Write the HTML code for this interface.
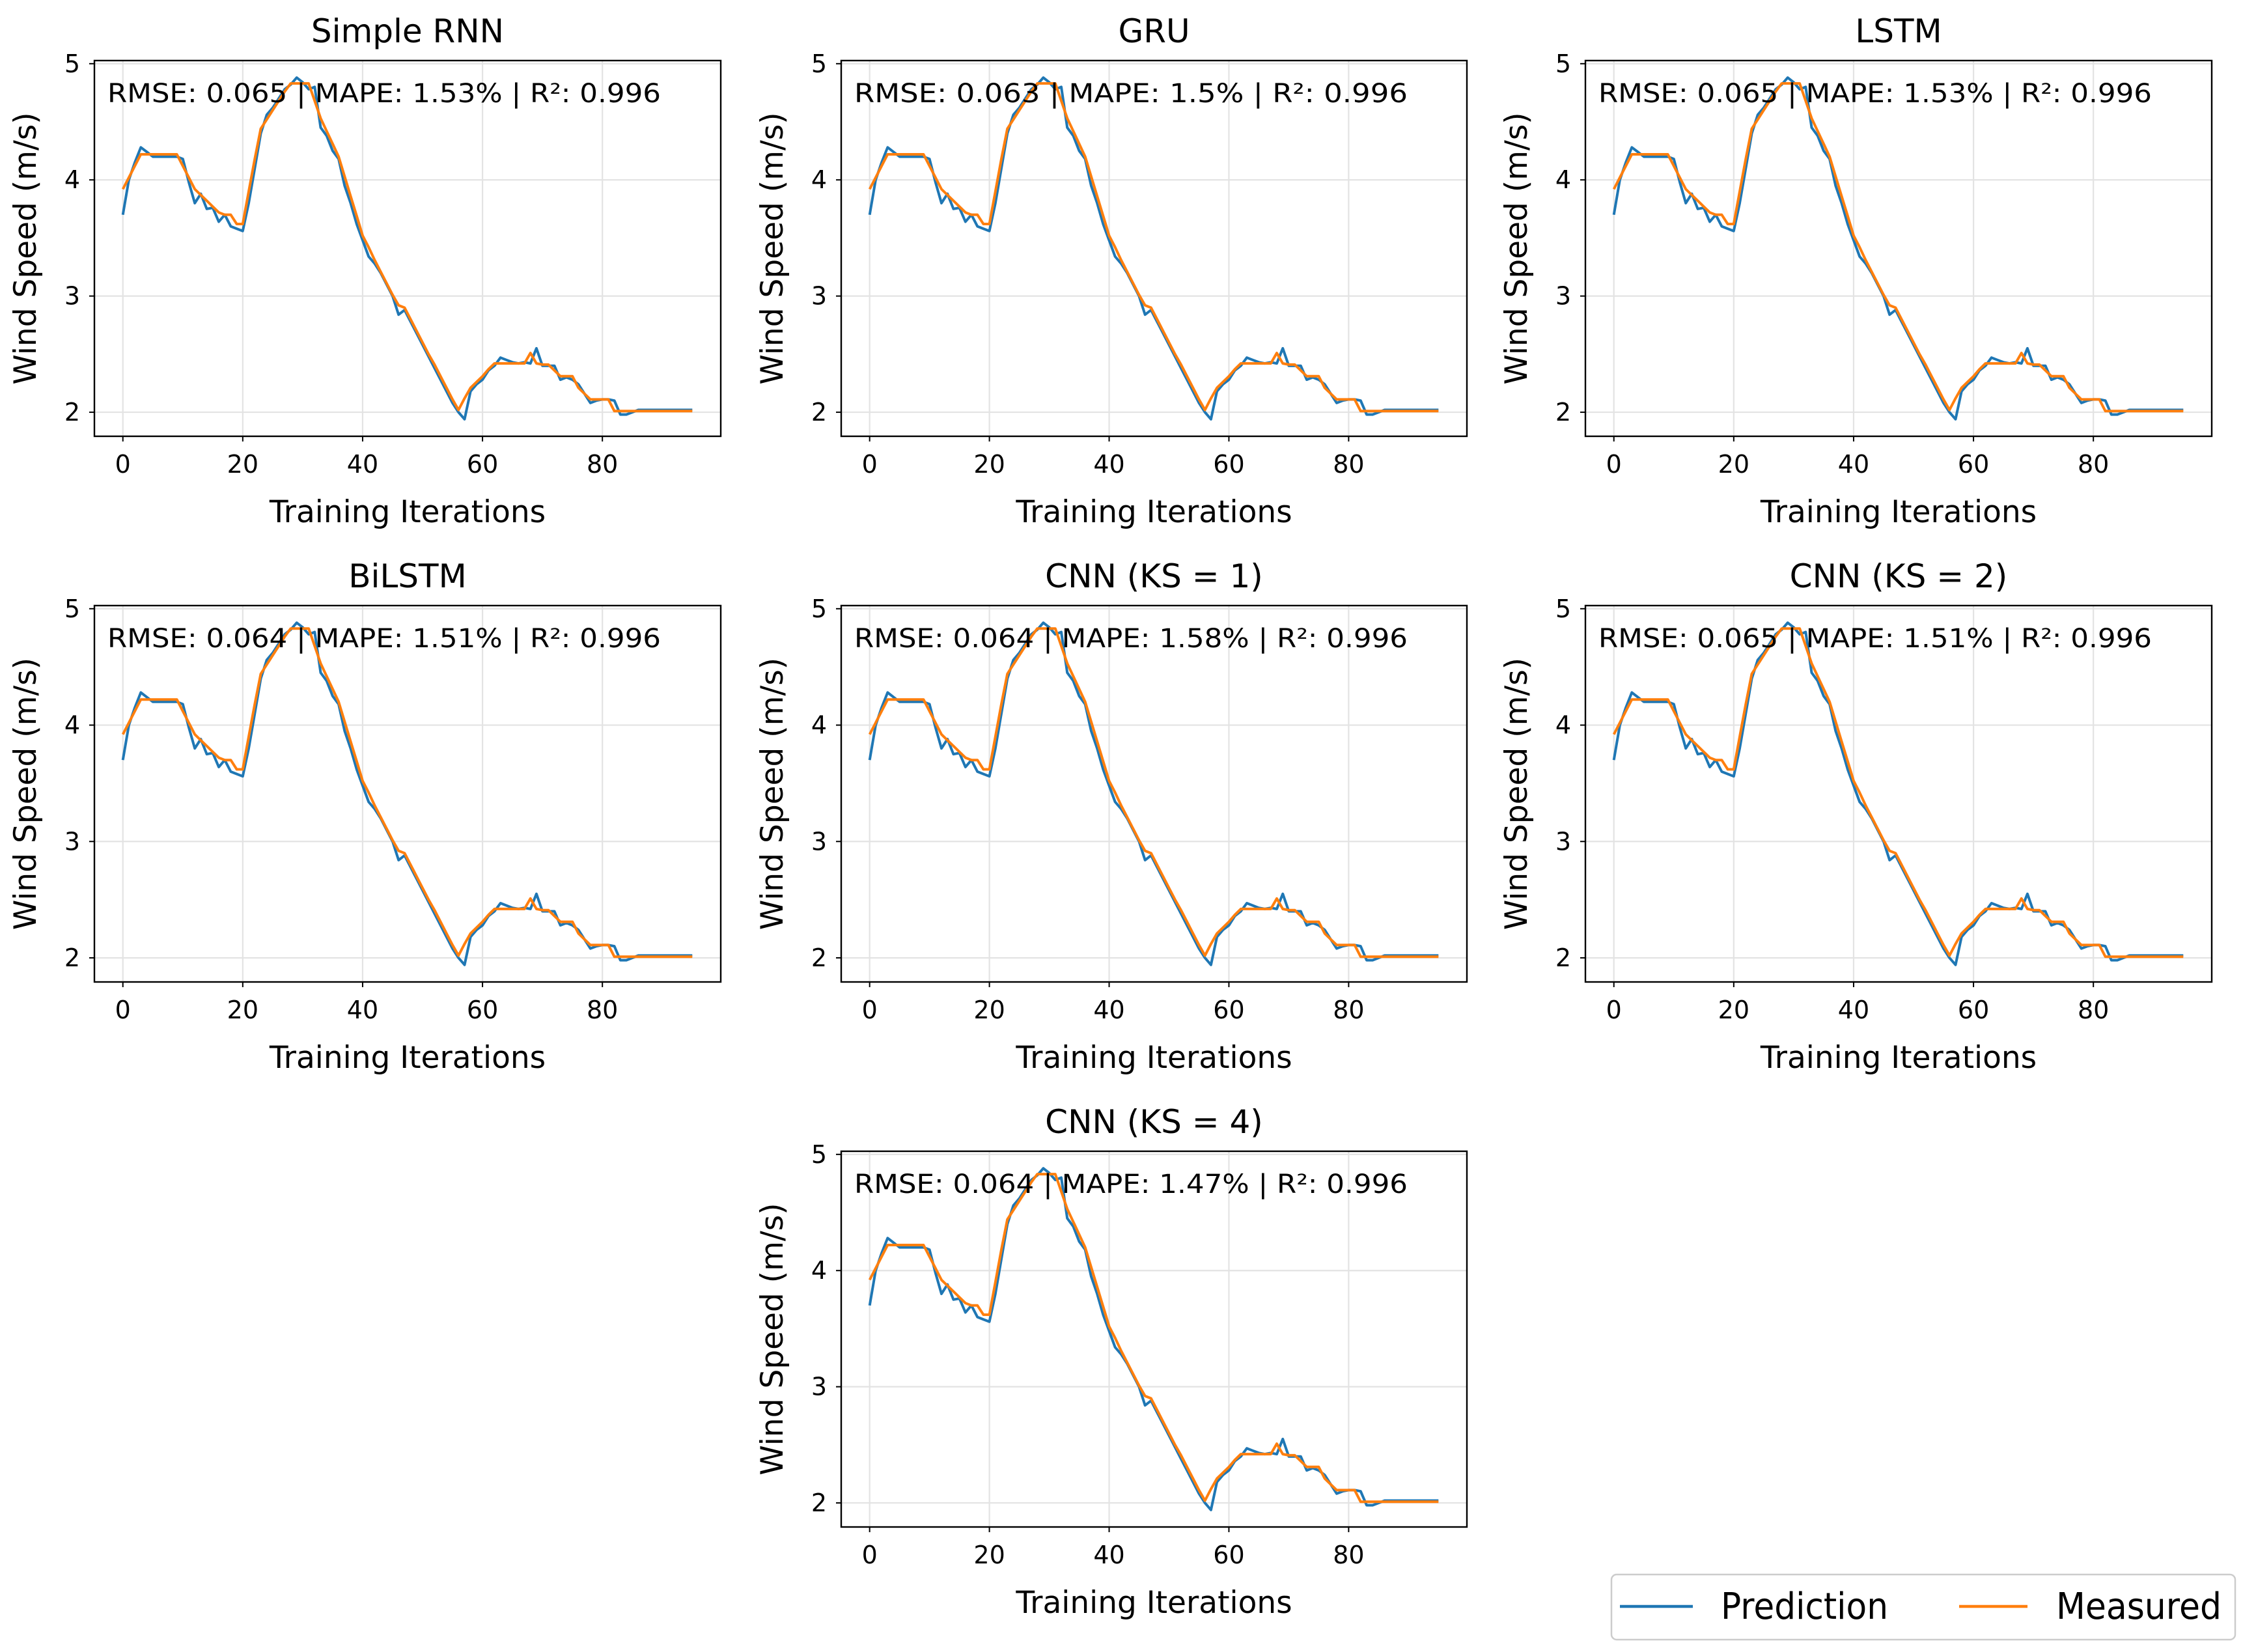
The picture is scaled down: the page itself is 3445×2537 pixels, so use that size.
<!DOCTYPE html>
<html><head><meta charset="utf-8">
<style>
html,body{margin:0;padding:0;background:#fff;}
svg{display:block;}
text{font-family:"DejaVu Sans","Liberation Sans",sans-serif;fill:#000;}
</style></head>
<body>
<svg id="fig" width="3445" height="2537" viewBox="0 0 3445 2537" xmlns="http://www.w3.org/2000/svg"></svg>
<script>
const titles = ["Simple RNN","GRU","LSTM","BiLSTM","CNN (KS = 1)","CNN (KS = 2)","CNN (KS = 4)"];
const rmse = ["0.065","0.063","0.065","0.064","0.064","0.065","0.064"];
const mape = ["1.53%","1.5%","1.53%","1.51%","1.58%","1.51%","1.47%"];
const r2 = ["0.996","0.996","0.996","0.996","0.996","0.996","0.996"];
const measured = [3.92,4.02,4.12,4.22,4.22,4.22,4.22,4.22,4.22,4.22,4.12,4.02,3.92,3.87,3.82,3.77,3.72,3.70,3.70,3.62,3.62,3.90,4.18,4.44,4.52,4.60,4.68,4.76,4.83,4.83,4.83,4.83,4.68,4.53,4.42,4.31,4.20,4.03,3.86,3.69,3.52,3.42,3.31,3.21,3.11,3.01,2.92,2.90,2.80,2.70,2.60,2.50,2.41,2.31,2.21,2.11,2.02,2.12,2.21,2.26,2.31,2.37,2.42,2.42,2.42,2.42,2.42,2.42,2.51,2.42,2.41,2.41,2.36,2.31,2.31,2.31,2.21,2.16,2.11,2.11,2.11,2.11,2.01,2.01,2.01,2.01,2.01,2.01,2.01,2.01,2.01,2.01,2.01,2.01,2.01,2.01];
const prediction = [3.70,4.00,4.15,4.28,4.24,4.20,4.20,4.20,4.20,4.20,4.18,3.98,3.80,3.88,3.75,3.76,3.64,3.70,3.60,3.58,3.56,3.80,4.10,4.40,4.56,4.62,4.70,4.78,4.82,4.88,4.84,4.78,4.80,4.45,4.38,4.25,4.18,3.95,3.80,3.62,3.48,3.34,3.28,3.20,3.10,3.00,2.84,2.88,2.78,2.68,2.58,2.48,2.38,2.28,2.18,2.08,2.00,1.94,2.18,2.24,2.28,2.36,2.40,2.47,2.45,2.43,2.42,2.43,2.42,2.55,2.40,2.40,2.40,2.28,2.30,2.28,2.24,2.16,2.08,2.10,2.11,2.11,2.10,1.98,1.98,2.00,2.02,2.02,2.02,2.02,2.02,2.02,2.02,2.02,2.02,2.02];
const xTicks = [0,20,40,60,80];
const yTicks = [2,3,4,5];

const NS="http://www.w3.org/2000/svg";
const svg=document.getElementById('fig');
function mk(tag,attrs,parent){const e=document.createElementNS(NS,tag);for(const k in attrs)e.setAttribute(k,attrs[k]);(parent||svg).appendChild(e);return e;}

const cols=[[145,1107],[1292,2253],[2435,3397]];
const rows=[[93,670],[930,1508],[1768,2345]];
const pos=[[0,0],[1,0],[2,0],[0,1],[1,1],[2,1],[1,2]];

const allV=measured.concat(prediction);
const dmin=Math.min(...allV), dmax=Math.max(...allV);
const ymin=dmin-0.05*(dmax-dmin), ymax=dmax+0.05*(dmax-dmin);
const n=measured.length;
const xmin=-0.05*(n-1), xmax=(n-1)*1.05;

pos.forEach((p,i)=>{
  const [L,R]=cols[p[0]], [T,B]=rows[p[1]];
  const sx=v=>L+(v-xmin)/(xmax-xmin)*(R-L);
  const sy=v=>B-(v-ymin)/(ymax-ymin)*(B-T);
  const g=mk('g',{});
  
  
  xTicks.forEach(t=>{const l=mk('line',{x1:sx(t),x2:sx(t),y1:T,y2:B,stroke:'#e3e3e3','stroke-width':2.2},g);
    });
  yTicks.forEach(t=>{const l=mk('line',{x1:L,x2:R,y1:sy(t),y2:sy(t),stroke:'#e3e3e3','stroke-width':2.2},g);
    });
  const mkPath=(arr,color,name)=>{
    const d=arr.map((v,k)=>(k?'L':'M')+sx(k).toFixed(1)+' '+sy(v).toFixed(1)).join(' ');
    const pth=mk('path',{d:d,fill:'none',stroke:color,'stroke-width':4,'stroke-linejoin':'round'},g);
    
    
  };
  mkPath(prediction,'#1f77b4','prediction-line');
  mkPath(measured,'#ff7f0e','measured-line');
  const fr=mk('rect',{x:L,y:T,width:R-L,height:B-T,fill:'none',stroke:'#000','stroke-width':2.4},g);
  
  xTicks.forEach(t=>{
    mk('line',{x1:sx(t),x2:sx(t),y1:B,y2:B+8,stroke:'#000','stroke-width':2},g);
    const tx=mk('text',{x:sx(t),y:B+56,'font-size':38,'text-anchor':'middle'},g);tx.textContent=t;
    
  });
  yTicks.forEach(t=>{
    mk('line',{x1:L-8,x2:L,y1:sy(t),y2:sy(t),stroke:'#000','stroke-width':2},g);
    const tx=mk('text',{x:L-22,y:sy(t)+13,'font-size':38,'text-anchor':'end'},g);tx.textContent=t;
    
  });
  const ti=mk('text',{x:(L+R)/2,y:T-28,'font-size':50,'text-anchor':'middle'},g);ti.textContent=titles[i];
  
  const xl=mk('text',{x:(L+R)/2,y:B+132,'font-size':47,'text-anchor':'middle'},g);xl.textContent='Training Iterations';
  
  const yl=mk('text',{x:0,y:0,'font-size':47,'text-anchor':'middle',transform:`translate(${L-90},${(T+B)/2}) rotate(-90)`},g);yl.textContent='Wind Speed (m/s)';
  
  const an=mk('text',{x:L+20,y:T+64,'font-size':40,textLength:850,lengthAdjust:'spacingAndGlyphs'},g);
  an.textContent=`RMSE: ${rmse[i]} | MAPE: ${mape[i]} | R²: ${r2[i]}`;
  
});

const lg=mk('g',{});


mk('rect',{x:2475,y:2418,width:958,height:100,rx:8,fill:'#fff',stroke:'#cccccc','stroke-width':2.5},lg);
mk('line',{x1:2488,x2:2600,y1:2467,y2:2467,stroke:'#1f77b4','stroke-width':4.5},lg);
const t1=mk('text',{x:2643,y:2486,'font-size':56,textLength:257,lengthAdjust:'spacingAndGlyphs'},lg);t1.textContent='Prediction';

mk('line',{x1:3009,x2:3114,y1:2467,y2:2467,stroke:'#ff7f0e','stroke-width':4.5},lg);
const t2=mk('text',{x:3158,y:2486,'font-size':56,textLength:254,lengthAdjust:'spacingAndGlyphs'},lg);t2.textContent='Measured';

</script>
</body></html>
